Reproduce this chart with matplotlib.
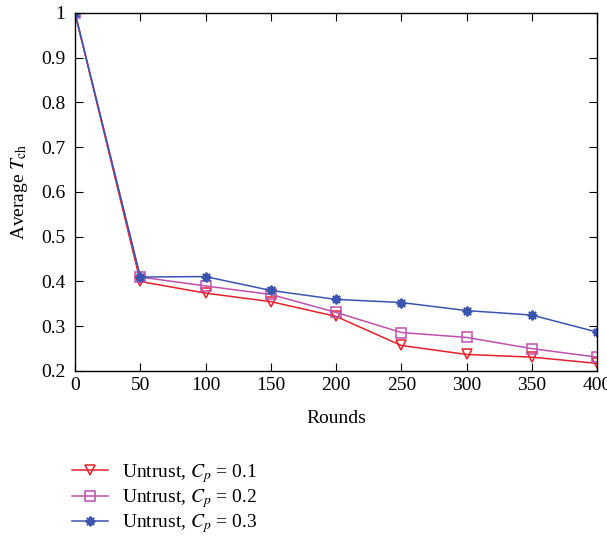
import matplotlib
matplotlib.use("Agg")
import matplotlib.pyplot as plt

rounds = [0, 50, 100, 150, 200, 250, 300, 350, 400]
cp01 = [1.0, 0.400, 0.374, 0.355, 0.322, 0.257, 0.237, 0.231, 0.217]
cp02 = [1.0, 0.410, 0.390, 0.371, 0.331, 0.286, 0.275, 0.250, 0.231]
cp03 = [1.0, 0.410, 0.411, 0.380, 0.360, 0.353, 0.335, 0.325, 0.287]
labels = [r"Untrust, $C_p$ = 0.1", r"Untrust, $C_p$ = 0.2", r"Untrust, $C_p$ = 0.3"]
xticks = [0, 50, 100, 150, 200, 250, 300, 350, 400]
yticks = [0.2, 0.3, 0.4, 0.5, 0.6, 0.7, 0.8, 0.9, 1.0]
yticklabels = ["0.2", "0.3", "0.4", "0.5", "0.6", "0.7", "0.8", "0.9", "1"]

plt.rcParams['font.family'] = ['Liberation Serif', 'DejaVu Serif']
plt.rcParams['mathtext.fontset'] = 'stix'
fs = 14

fig = plt.figure(figsize=(6.07, 5.39), dpi=100)
ax = fig.add_axes([0.1236, 0.3117, 0.860, 0.6642])

red = '#e8202a'
mag = '#c050b0'
blue = '#3a55b0'
ax.plot(rounds, cp01, color=red, lw=1.1, marker='v', ms=7.5, mfc='none', mec=red, mew=1.1, label=labels[0])
ax.plot(rounds, cp02, color=mag, lw=1.1, marker='s', ms=7, mfc='none', mec=mag, mew=1.1, label=labels[1])
ax.plot(rounds, cp03, color=blue, lw=1.1, marker=(8, 2, 0), ms=7, mfc=blue, mec=blue, mew=1.4, label=labels[2])

ax.set_xlim(0, 400)
ax.set_ylim(0.2, 1.0)
ax.set_xticks(xticks)
ax.set_xticklabels([str(t) for t in xticks])
ax.set_yticks(yticks)
ax.set_yticklabels(yticklabels)
ax.tick_params(direction='in', top=True, right=True, length=6, labelsize=fs)
ax.tick_params(axis='y', pad=7)
ax.tick_params(axis='x', pad=4)
for s in ax.spines.values():
    s.set_linewidth(1.0)
ax.set_xlabel("Rounds", fontsize=fs, labelpad=12)
ax.set_ylabel(r"Average $T_{\rm ch}$", fontsize=fs, labelpad=8)

h, l = ax.get_legend_handles_labels()
fig.legend(h, l, loc='upper left', bbox_to_anchor=(0.1186, 0.143), frameon=False,
           fontsize=fs, handlelength=1.85, labelspacing=0.12, handletextpad=0.72,
           borderaxespad=0, borderpad=0)

fig.savefig("out.png", dpi=100)
